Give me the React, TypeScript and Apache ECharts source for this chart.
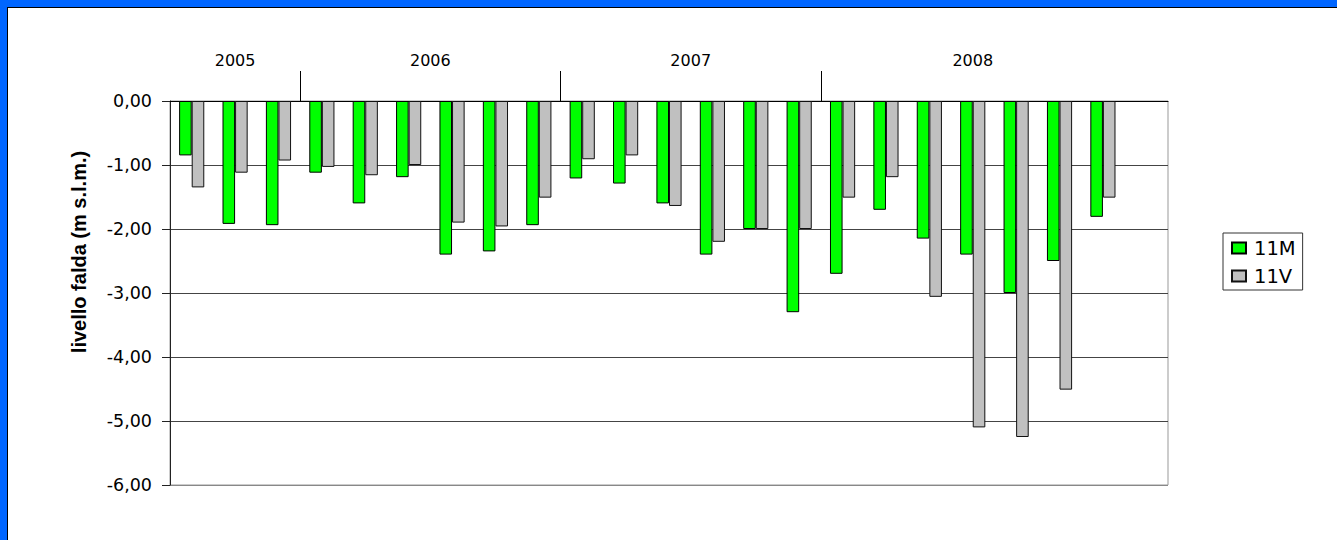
import React, { useEffect, useRef } from "react";
import * as echarts from "echarts";

const categories: string[] = [
  "2005-1", "2005-2", "2005-3",
  "2006-1", "2006-2", "2006-3", "2006-4", "2006-5", "2006-6",
  "2007-1", "2007-2", "2007-3", "2007-4", "2007-5", "2007-6",
  "2008-1", "2008-2", "2008-3", "2008-4", "2008-5", "2008-6", "2008-7",
  "",
];

const series11M: (number | null)[] = [
  -0.85, -1.92, -1.94,
  -1.12, -1.6, -1.19, -2.4, -2.35, -1.94,
  -1.21, -1.29, -1.6, -2.4, -2.0, -3.3,
  -2.7, -1.7, -2.15, -2.4, -3.0, -2.5, -1.81,
  null,
];

const series11V: (number | null)[] = [
  -1.35, -1.12, -0.93,
  -1.03, -1.16, -1.0, -1.9, -1.96, -1.51,
  -0.91, -0.85, -1.64, -2.2, -2.0, -2.0,
  -1.51, -1.19, -3.06, -5.1, -5.25, -4.51, -1.51,
  null,
];

const years: string[] = ["2005", "2006", "2007", "2008"];
const yearCounts: number[] = [3, 6, 6, 7];

const yTitle = "livello falda (m s.l.m.)";

export default function App() {
  const ref = useRef<HTMLDivElement>(null);

  useEffect(() => {
    if (!ref.current) return;
    const chart = echarts.init(ref.current, null, { renderer: "svg" });

    // year boundaries and midpoints (in category units)
    const bounds: number[] = [];
    const mids: number[] = [];
    let acc = 0;
    yearCounts.forEach((c, i) => {
      mids.push(acc + c / 2);
      acc += c;
      if (i < yearCounts.length - 1) bounds.push(acc);
    });

    const option: any = {
      animation: false,
      backgroundColor: "#ffffff",
      grid: {
        left: 170,
        top: 101,
        width: 998,
        height: 384,
        show: true,
        borderColor: "#999999",
        borderWidth: 1,
        backgroundColor: "transparent",
      },
      legend: {
        orient: "vertical",
        left: 1223,
        top: 233,
        data: ["11M", "11V"],
        itemWidth: 14,
        itemHeight: 11,
        itemGap: 8,
        padding: [5, 7, 4, 8],
        borderColor: "#333333",
        borderWidth: 1,
        backgroundColor: "#ffffff",
        textStyle: {
          fontFamily: "DejaVu Sans",
          fontSize: 19.5,
          color: "#000000",
          padding: [0, 0, 0, 3],
        },
        icon: "rect",
      },
      xAxis: [
        {
          type: "category",
          data: categories,
          position: "top",
          axisLine: { show: true, onZero: false, lineStyle: { color: "#000000", width: 1 } },
          axisTick: { show: false },
          axisLabel: { show: false },
          splitLine: { show: false },
        },
        {
          type: "value",
          min: 0,
          max: categories.length,
          position: "top",
          offset: 3,
          axisLine: { show: false },
          splitLine: { show: false },
          axisTick: {
            show: true,
            customValues: bounds,
            length: 30,
            inside: false,
            lineStyle: { color: "#000000", width: 1 },
          },
          axisLabel: {
            show: true,
            customValues: mids,
            margin: 30,
            fontFamily: "DejaVu Sans",
            fontSize: 16,
            color: "#000000",
            formatter: (v: number) => {
              const idx = mids.findIndex((m) => Math.abs(m - v) < 1e-6);
              return idx >= 0 ? years[idx] : "";
            },
          },
        },
      ],
      yAxis: {
        type: "value",
        min: -6,
        max: 0,
        interval: 1,
        axisLine: { show: true, lineStyle: { color: "#222222", width: 1 } },
        axisTick: { show: true, length: 8, inside: false, lineStyle: { color: "#222222" } },
        axisLabel: {
          margin: 18,
          fontFamily: "DejaVu Sans",
          fontSize: 17.5,
          color: "#000000",
          formatter: (v: number) => v.toFixed(2).replace(".", ","),
        },
        splitLine: {
          show: true,
          lineStyle: {
            color: ["#888888", "#444444", "#444444", "#444444", "#444444", "#444444", "#000000"],
            width: 1,
          },
        },
      },
      series: [
        {
          name: "11M",
          type: "bar",
          xAxisIndex: 0,
          data: series11M,
          barGap: "0%",
          barCategoryGap: "42%",
          itemStyle: { color: "#00ff00", borderColor: "#000000", borderWidth: 1 },
        },
        {
          name: "11V",
          type: "bar",
          xAxisIndex: 0,
          data: series11V,
          barGap: "0%",
          barCategoryGap: "42%",
          itemStyle: { color: "#c0c0c0", borderColor: "#111111", borderWidth: 1 },
        },
      ],
      graphic: [
        { type: "rect", shape: { x: 0, y: 0, width: 7, height: 540 }, style: { fill: "#0066ff" }, silent: true },
        { type: "rect", shape: { x: 0, y: 0, width: 1337, height: 7 }, style: { fill: "#0066ff" }, silent: true },
        { type: "line", shape: { x1: 7.5, y1: 7, x2: 7.5, y2: 540 }, style: { stroke: "#000000", lineWidth: 1 }, silent: true },
        { type: "line", shape: { x1: 7, y1: 7.5, x2: 1337, y2: 7.5 }, style: { stroke: "#000000", lineWidth: 1 }, silent: true },
        {
          type: "text",
          x: 79,
          y: 252,
          rotation: Math.PI / 2,
          style: {
            text: yTitle,
            fontFamily: "Liberation Sans",
            fontWeight: "bold",
            fontSize: 20,
            fill: "#000000",
            textAlign: "center",
            textVerticalAlign: "middle",
          },
          silent: true,
        },
      ],
    };

    chart.setOption(option);
    return () => chart.dispose();
  }, []);

  return (
    <div
      ref={ref}
      style={{ position: "absolute", left: 0, top: 0, width: 1337, height: 540 }}
    />
  );
}
